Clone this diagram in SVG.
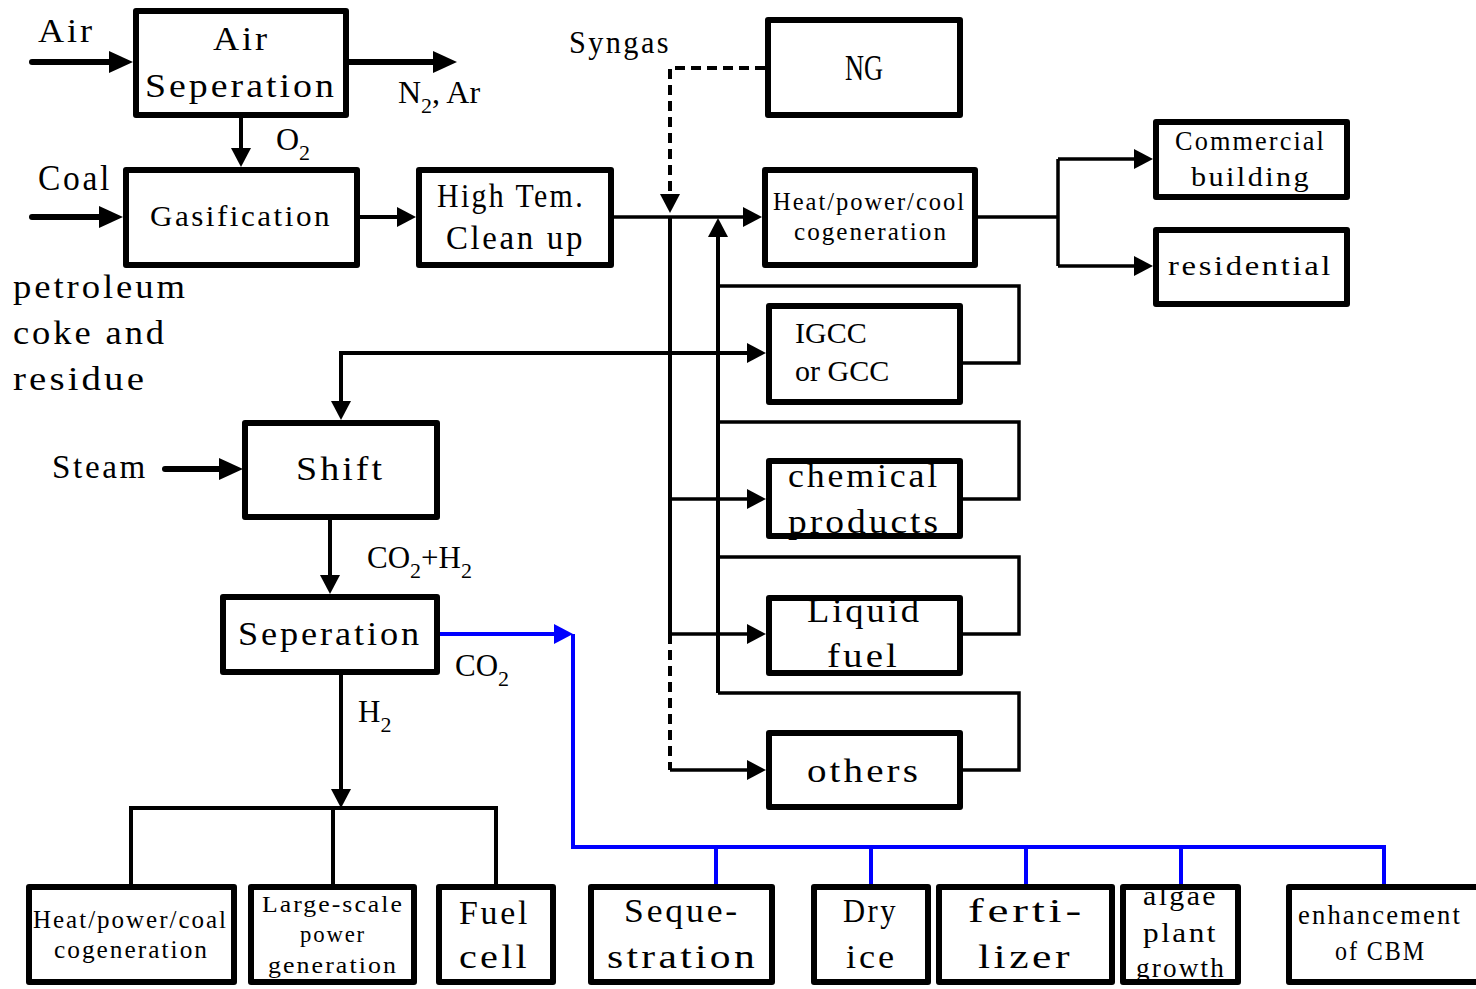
<svg xmlns="http://www.w3.org/2000/svg" width="1476" height="989" viewBox="0 0 1476 989">
<defs>
<style>
.b{fill:none;stroke:#000;stroke-width:6;stroke-linejoin:round}
.t{font-family:"Liberation Serif","Times New Roman",serif;fill:#000;letter-spacing:0.08em}
.n{font-family:"Liberation Serif","Times New Roman",serif;fill:#000}
.s{font-size:22px}
.ln{fill:none;stroke:#000;stroke-width:3.5}
.th{fill:none;stroke:#000;stroke-width:6;stroke-linecap:round}
.bl{fill:none;stroke:#0000FF;stroke-width:4}
.da{stroke-dasharray:10 6}
</style>
<marker id="big" markerUnits="userSpaceOnUse" markerWidth="24" markerHeight="22" refX="12" refY="11" orient="auto"><path d="M0,0 L24,11 L0,22 z" fill="#000"/></marker>
<marker id="sm" markerUnits="userSpaceOnUse" markerWidth="19" markerHeight="20" refX="9" refY="10" orient="auto-start-reverse"><path d="M0,0 L19,10 L0,20 z" fill="#000"/></marker>
<marker id="smb" markerUnits="userSpaceOnUse" markerWidth="19" markerHeight="20" refX="9" refY="10" orient="auto"><path d="M0,0 L19,10 L0,20 z" fill="#0000FF"/></marker>
</defs>
<rect width="1476" height="989" fill="#fff"/>

<g id="connectors">
<path class="th" d="M32,62 H121" marker-end="url(#big)"/>
<path class="th" d="M349,62 H445" marker-end="url(#big)"/>
<path class="ln" style="stroke-width:4" d="M241,118 V157" marker-end="url(#sm)"/>
<path class="th" d="M32,217 H111" marker-end="url(#big)"/>
<path class="ln" style="stroke-width:4" d="M360,217 H406" marker-end="url(#sm)"/>
<path class="ln" d="M614,217 H752" marker-end="url(#sm)"/>
<path class="ln da" style="stroke-width:4" d="M765,68 H670 V203" marker-end="url(#sm)"/>
<path class="ln" d="M978,217 H1058 M1058,159 V266"/>
<path class="ln" d="M1058,159 H1143" marker-end="url(#sm)"/>
<path class="ln" d="M1058,266 H1143" marker-end="url(#sm)"/>
<path class="ln" style="stroke-width:4" d="M670,217 V634"/>
<path class="ln da" style="stroke-width:4" d="M670,634 V770"/>
<path class="ln" d="M670,499 H756" marker-end="url(#sm)"/>
<path class="ln" d="M670,634 H756" marker-end="url(#sm)"/>
<path class="ln" d="M670,770 H756" marker-end="url(#sm)"/>
<path class="ln" style="stroke-width:4" d="M341,410 V353 H756" marker-start="url(#sm)" marker-end="url(#sm)"/>
<path class="ln" style="stroke-width:4" d="M718,693 V228" marker-end="url(#sm)"/>
<path class="ln" d="M963,363 H1019 V286 H718"/>
<path class="ln" d="M963,499 H1019 V422 H718"/>
<path class="ln" d="M963,634 H1019 V557 H718"/>
<path class="ln" d="M963,770 H1019 V693 H718"/>
<path class="th" d="M165,469 H231" marker-end="url(#big)"/>
<path class="ln" style="stroke-width:4" d="M330,520 V584" marker-end="url(#sm)"/>
<path class="ln" style="stroke-width:4" d="M341,675 V798" marker-end="url(#sm)"/>
<path class="ln" style="stroke-width:4" d="M131,884 V808 H496 V884 M333,808 V884"/>
<path class="bl" d="M440,634 H563" marker-end="url(#smb)"/>
<path class="bl" d="M573,634 V847 H1384 V884 M716,847 V884 M871,847 V884 M1026,847 V884 M1181,847 V884"/>
</g>

<g id="labels">
<text class="t" x="38" y="42" font-size="34" textLength="57" lengthAdjust="spacingAndGlyphs">Air</text>
<text class="t" x="38" y="190" font-size="35" textLength="74" lengthAdjust="spacingAndGlyphs">Coal</text>
<text class="t" x="13" y="298" font-size="33" textLength="175" lengthAdjust="spacingAndGlyphs">petroleum</text>
<text class="t" x="13" y="344" font-size="33" textLength="154" lengthAdjust="spacingAndGlyphs">coke and</text>
<text class="t" x="13" y="390" font-size="33" textLength="134" lengthAdjust="spacingAndGlyphs">residue</text>
<text class="t" x="52" y="478" font-size="33" textLength="96" lengthAdjust="spacingAndGlyphs">Steam</text>
<text class="t" x="569" y="53" font-size="31" textLength="102" lengthAdjust="spacingAndGlyphs">Syngas</text>
<text id="n2-ar" class="n" x="398" y="103" font-size="32">N<tspan class="s" dy="10">2</tspan><tspan dy="-10">, Ar</tspan></text>
<text id="o2" class="n" x="276" y="150" font-size="32">O<tspan class="s" dy="10">2</tspan></text>
<text id="co2-h2" class="n" x="367" y="568" font-size="31">CO<tspan class="s" dy="10">2</tspan><tspan dy="-10">+H</tspan><tspan class="s" dy="10">2</tspan></text>
<text id="co2" class="n" x="455" y="676" font-size="31">CO<tspan class="s" dy="10">2</tspan></text>
<text id="h2" class="n" x="358" y="722" font-size="31">H<tspan class="s" dy="10">2</tspan></text>
</g>

<g id="air-separation">
<text class="t" x="213" y="50" font-size="33" textLength="57" lengthAdjust="spacingAndGlyphs">Air</text>
<text class="t" x="145" y="97" font-size="33" textLength="192" lengthAdjust="spacingAndGlyphs">Seperation</text>
<rect class="b" x="136" y="11" width="210" height="104"/>
</g>
<g id="gasification">
<text class="t" x="150" y="226" font-size="30" textLength="182" lengthAdjust="spacingAndGlyphs">Gasification</text>
<rect class="b" x="126" y="170" width="231" height="95"/>
</g>
<g id="clean-up">
<text class="t" x="437" y="207" font-size="33" textLength="148" lengthAdjust="spacingAndGlyphs">High Tem.</text>
<text class="t" x="446" y="249" font-size="33" textLength="139" lengthAdjust="spacingAndGlyphs">Clean up</text>
<rect class="b" x="419" y="170" width="192" height="95"/>
</g>
<g id="ng">
<text class="n" x="845" y="80" font-size="36" textLength="38" lengthAdjust="spacingAndGlyphs">NG</text>
<rect class="b" x="768" y="20" width="192" height="95"/>
</g>
<g id="cogeneration">
<text class="t" x="773" y="210" font-size="25" textLength="193" lengthAdjust="spacingAndGlyphs">Heat/power/cool</text>
<text class="t" x="794" y="240" font-size="25" textLength="154" lengthAdjust="spacingAndGlyphs">cogeneration</text>
<rect class="b" x="765" y="170" width="210" height="95"/>
</g>
<g id="commercial">
<text class="t" x="1175" y="150" font-size="27" textLength="151" lengthAdjust="spacingAndGlyphs">Commercial</text>
<text class="t" x="1191" y="186" font-size="27" textLength="120" lengthAdjust="spacingAndGlyphs">building</text>
<rect class="b" x="1156" y="122" width="191" height="75"/>
</g>
<g id="residential">
<text class="t" x="1168" y="275" font-size="27" textLength="165" lengthAdjust="spacingAndGlyphs">residential</text>
<rect class="b" x="1156" y="230" width="191" height="74"/>
</g>
<g id="igcc">
<text class="n" x="795" y="343" font-size="30">IGCC</text>
<text class="n" x="795" y="381" font-size="30">or GCC</text>
<rect class="b" x="769" y="306" width="191" height="96"/>
</g>
<g id="chemical">
<text class="t" x="788" y="487" font-size="33" textLength="152" lengthAdjust="spacingAndGlyphs">chemical</text>
<text class="t" x="788" y="533" font-size="33" textLength="153" lengthAdjust="spacingAndGlyphs">products</text>
<rect class="b" x="769" y="461" width="191" height="75"/>
</g>
<g id="liquid-fuel">
<text class="t" x="807" y="622" font-size="33" textLength="115" lengthAdjust="spacingAndGlyphs">Liquid</text>
<text class="t" x="827" y="667" font-size="33" textLength="73" lengthAdjust="spacingAndGlyphs">fuel</text>
<rect class="b" x="769" y="598" width="191" height="75"/>
</g>
<g id="others">
<text class="t" x="807" y="782" font-size="33" textLength="114" lengthAdjust="spacingAndGlyphs">others</text>
<rect class="b" x="769" y="733" width="191" height="74"/>
</g>
<g id="shift">
<text class="t" x="296" y="480" font-size="33" textLength="89" lengthAdjust="spacingAndGlyphs">Shift</text>
<rect class="b" x="245" y="423" width="192" height="94"/>
</g>
<g id="separation">
<text class="t" x="238" y="645" font-size="33" textLength="184" lengthAdjust="spacingAndGlyphs">Seperation</text>
<rect class="b" x="223" y="597" width="214" height="75"/>
</g>
<g id="h2-cogeneration">
<text class="t" x="33" y="928" font-size="25" textLength="195" lengthAdjust="spacingAndGlyphs">Heat/power/coal</text>
<text class="t" x="54" y="958" font-size="25" textLength="155" lengthAdjust="spacingAndGlyphs">cogeneration</text>
<rect class="b" x="29" y="887" width="205" height="95"/>
</g>
<g id="large-scale">
<text class="t" x="262" y="912" font-size="24" textLength="142" lengthAdjust="spacingAndGlyphs">Large-scale</text>
<text class="t" x="300" y="942" font-size="24" textLength="66" lengthAdjust="spacingAndGlyphs">power</text>
<text class="t" x="268" y="973" font-size="24" textLength="130" lengthAdjust="spacingAndGlyphs">generation</text>
<rect class="b" x="251" y="887" width="163" height="95"/>
</g>
<g id="fuel-cell">
<text class="t" x="459" y="924" font-size="33" textLength="71" lengthAdjust="spacingAndGlyphs">Fuel</text>
<text class="t" x="459" y="968" font-size="33" textLength="71" lengthAdjust="spacingAndGlyphs">cell</text>
<rect class="b" x="439" y="887" width="114" height="95"/>
</g>
<g id="sequestration">
<text class="t" x="624" y="922" font-size="34" textLength="116" lengthAdjust="spacingAndGlyphs">Seque-</text>
<text class="t" x="607" y="968" font-size="34" textLength="151" lengthAdjust="spacingAndGlyphs">stration</text>
<rect class="b" x="591" y="887" width="181" height="95"/>
</g>
<g id="dry-ice">
<text class="t" x="843" y="922" font-size="33" textLength="55" lengthAdjust="spacingAndGlyphs">Dry</text>
<text class="t" x="846" y="968" font-size="33" textLength="51" lengthAdjust="spacingAndGlyphs">ice</text>
<rect class="b" x="814" y="887" width="114" height="95"/>
</g>
<g id="fertilizer">
<text class="t" x="968" y="922" font-size="34" textLength="117" lengthAdjust="spacingAndGlyphs">ferti-</text>
<text class="t" x="978" y="968" font-size="34" textLength="95" lengthAdjust="spacingAndGlyphs">lizer</text>
<rect class="b" x="939" y="887" width="173" height="95"/>
</g>
<g id="algae">
<text class="t" x="1143" y="905" font-size="27" textLength="75" lengthAdjust="spacingAndGlyphs">algae</text>
<text class="t" x="1143" y="942" font-size="27" textLength="75" lengthAdjust="spacingAndGlyphs">plant</text>
<text class="t" x="1136" y="977" font-size="27" textLength="90" lengthAdjust="spacingAndGlyphs">growth</text>
<rect class="b" x="1123" y="887" width="115" height="95"/>
</g>
<g id="cbm">
<text class="t" x="1298" y="924" font-size="27" textLength="164" lengthAdjust="spacingAndGlyphs">enhancement</text>
<text class="t" x="1335" y="960" font-size="27" textLength="91" lengthAdjust="spacingAndGlyphs">of CBM</text>
<rect class="b" x="1289" y="887" width="200" height="95"/>
</g>
</svg>
